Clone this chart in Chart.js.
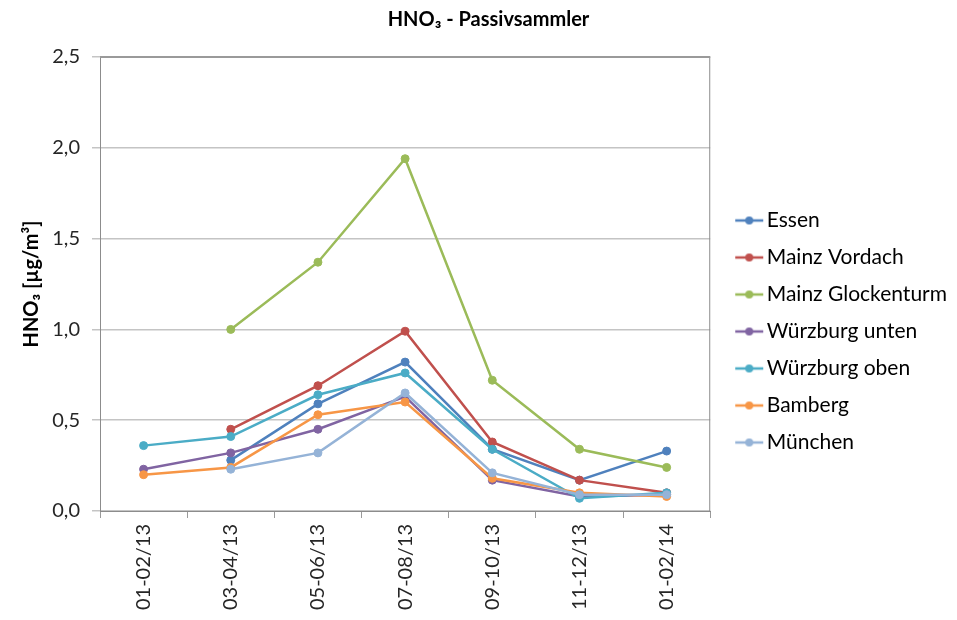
<!DOCTYPE html>
<html>
<head>
<meta charset="utf-8">
<script src="https://cdn.jsdelivr.net/npm/chart.js@4/dist/chart.umd.min.js"></script>
<style>
  html, body { margin: 0; padding: 0; background: #fff; }
  #wrap { width: 957px; height: 620px; }
</style>
</head>
<body>
<div id="wrap"><canvas id="chart" width="957" height="620"></canvas></div>
<script>
// HNO3 passive sampler, two-month periods
const periods = ['01-02/13', '03-04/13', '05-06/13', '07-08/13', '09-10/13', '11-12/13', '01-02/14'];
const yTicks = [0, 0.5, 1.0, 1.5, 2.0, 2.5];

const essen          = [null, 0.28, 0.59, 0.82, 0.34, 0.17, 0.33];
const mainzVordach   = [null, 0.45, 0.69, 0.99, 0.38, 0.17, 0.10];
const mainzGlocke    = [null, 1.00, 1.37, 1.94, 0.72, 0.34, 0.24];
const wuerzburgUnten = [0.23, 0.32, 0.45, 0.63, 0.17, 0.08, 0.09];
const wuerzburgOben  = [0.36, 0.41, 0.64, 0.76, 0.34, 0.07, 0.10];
const bamberg        = [0.20, 0.24, 0.53, 0.60, 0.18, 0.10, 0.08];
const muenchen       = [null, 0.23, 0.32, 0.65, 0.21, 0.09, 0.09];

const seriesNames = ['Essen', 'Mainz Vordach', 'Mainz Glockenturm', 'Würzburg unten', 'Würzburg oben', 'Bamberg', 'München'];
const seriesData = [essen, mainzVordach, mainzGlocke, wuerzburgUnten, wuerzburgOben, bamberg, muenchen];
const seriesColors = ['#4f81bd', '#c0504d', '#9bbb59', '#8064a2', '#4bacc6', '#f79646', '#95b3d7'];

const FONT = 'Lato, Carlito, "Open Sans", sans-serif';

// small line+dot swatch for the legend (left part of the image stays empty)
function legendSwatch(color) {
    const c = document.createElement('canvas');
    c.width = 46; c.height = 10;
    const g = c.getContext('2d');
    g.strokeStyle = color;
    g.lineWidth = 2.5;
    g.beginPath(); g.moveTo(17, 5); g.lineTo(45, 5); g.stroke();
    g.fillStyle = color;
    g.beginPath(); g.arc(31, 5, 4, 0, Math.PI * 2); g.fill();
    return c;
}

// grey frame around the plot area
const frame = {
    id: 'frame',
    afterDraw(chart) {
        const a = chart.chartArea, ctx = chart.ctx;
        ctx.save();
        ctx.strokeStyle = '#8c8c8c';
        ctx.lineWidth = 1;
        ctx.strokeRect(a.left + 0.5, a.top + 0.5, a.right - a.left - 1, a.bottom - a.top);
        ctx.strokeStyle = '#9a9a9a';
        ctx.lineWidth = 2;
        ctx.beginPath(); ctx.moveTo(a.left, a.top); ctx.lineTo(a.right, a.top); ctx.stroke();
        ctx.restore();
    }
};

const datasets = seriesNames.map((name, i) => ({
    label: name,
    data: seriesData[i],
    borderColor: seriesColors[i],
    backgroundColor: seriesColors[i],
    pointBackgroundColor: seriesColors[i],
    pointBorderColor: seriesColors[i],
    borderWidth: 2.5,
    pointRadius: 4,
    pointBorderWidth: 1,
    tension: 0,
    spanGaps: false,
    order: seriesNames.length - 1 - i
}));

new Chart(document.getElementById('chart'), {
    type: 'line',
    data: { labels: periods, datasets: datasets },
    plugins: [frame],
    options: {
        responsive: false,
        animation: false,
        layout: { padding: { left: 20, right: 0, top: 0, bottom: 0 } },
        plugins: {
            title: {
                display: true,
                text: 'HNO₃ - Passivsammler',
                color: '#000',
                font: { family: FONT, size: 20, weight: 'bold' },
                padding: { top: 8, bottom: 25 }
            },
            legend: {
                position: 'right',
                align: 'start',
                maxWidth: 247,
                title: { display: true, text: '', font: { size: 10 }, padding: { top: 182, bottom: 0 } },
                labels: {
                    usePointStyle: true,
                    pointStyleWidth: 30,
                    color: '#000',
                    padding: 16,
                    font: { family: FONT, size: 21 },
                    sort: (a, b) => a.datasetIndex - b.datasetIndex,
                    generateLabels(chart) {
                        const items = Chart.defaults.plugins.legend.labels.generateLabels(chart);
                        items.forEach(it => { it.pointStyle = legendSwatch(seriesColors[it.datasetIndex]); });
                        return items;
                    }
                }
            },
            tooltip: { enabled: false }
        },
        scales: {
            x: {
                type: 'category',
                offset: true,
                grid: { offset: true, drawOnChartArea: false, drawTicks: true, tickLength: 7, color: '#9a9a9a', lineWidth: 1 },
                border: { display: true, color: '#8c8c8c' },
                ticks: {
                    color: '#262626',
                    font: { family: FONT, size: 20 },
                    minRotation: 90,
                    maxRotation: 90,
                    padding: 6,
                    autoSkip: false
                },
                afterFit(scale) { scale.height = 109; }
            },
            y: {
                min: 0,
                max: 2.5,
                afterBuildTicks(scale) { scale.ticks = yTicks.map(v => ({ value: v })); },
                grid: { color: '#c4c4c4', lineWidth: 1.5, tickLength: 8 },
                border: { display: true, color: '#8c8c8c' },
                ticks: {
                    color: '#262626',
                    font: { family: FONT, size: 20 },
                    padding: 12,
                    callback: v => v.toFixed(1).replace('.', ',')
                },
                title: {
                    display: true,
                    text: 'HNO₃ [µg/m³]',
                    color: '#000',
                    font: { family: FONT, size: 20, weight: 'bold' },
                    padding: 0
                },
                afterFit(scale) { scale.width = 80; }
            }
        }
    }
});
</script>
</body>
</html>
